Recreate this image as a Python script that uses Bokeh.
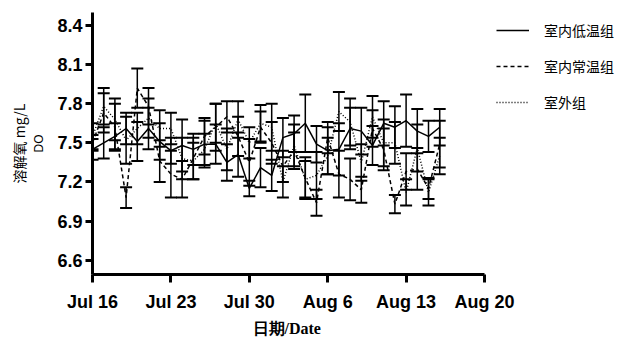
import pandas as pd
from bokeh.plotting import figure
from bokeh.models import (ColumnDataSource, Whisker, TeeHead, Legend, LegendItem,
                          FixedTicker, Range1d, Title)
from bokeh.embed import file_html
from bokeh.resources import INLINE

# ---------------- data ----------------
dates = ["2023-07-16", "2023-07-17", "2023-07-18", "2023-07-19", "2023-07-20", "2023-07-21",
         "2023-07-22", "2023-07-23", "2023-07-24", "2023-07-25", "2023-07-26", "2023-07-27",
         "2023-07-28", "2023-07-29", "2023-07-30", "2023-07-31", "2023-08-01", "2023-08-02",
         "2023-08-03", "2023-08-04", "2023-08-05", "2023-08-06", "2023-08-07", "2023-08-08",
         "2023-08-09", "2023-08-10", "2023-08-11", "2023-08-12", "2023-08-13", "2023-08-14",
         "2023-08-15", "2023-08-16"]

low_mean = [7.45, 7.50, 7.55, 7.61, 7.51, 7.61, 7.51, 7.44, 7.48, 7.45, 7.49, 7.49,
            7.35, 7.41, 7.15, 7.31, 7.25, 7.54, 7.57, 7.65, 7.49, 7.44, 7.45, 7.61,
            7.59, 7.48, 7.65, 7.62, 7.67, 7.59, 7.55, 7.62]
low_sd = [0.08, 0.12, 0.10, 0.12, 0.15, 0.16, 0.14, 0.10, 0.20, 0.12, 0.18, 0.15,
          0.14, 0.17, 0.06, 0.15, 0.12, 0.15, 0.14, 0.22, 0.14, 0.18, 0.20, 0.16,
          0.18, 0.15, 0.17, 0.16, 0.20, 0.17, 0.12, 0.14]

normal_mean = [7.50, 7.73, 7.62, 7.08, 7.92, 7.78, 7.36, 7.26, 7.22, 7.38, 7.55, 7.62,
               7.70, 7.55, 7.35, 7.62, 7.50, 7.32, 7.44, 7.23, 7.04, 7.54, 7.26, 7.22,
               7.14, 7.61, 7.45, 7.03, 7.28, 7.30, 7.15, 7.49]
normal_sd = [0.06, 0.15, 0.18, 0.08, 0.15, 0.14, 0.16, 0.18, 0.14, 0.16, 0.14, 0.18,
             0.12, 0.15, 0.18, 0.12, 0.16, 0.12, 0.14, 0.16, 0.10, 0.12, 0.18, 0.16,
             0.10, 0.14, 0.16, 0.07, 0.14, 0.16, 0.08, 0.18]

outdoor_mean = [7.55, 7.78, 7.68, 7.52, 7.61, 7.69, 7.61, 7.61, 7.38, 7.36, 7.45, 7.65,
                7.45, 7.68, 7.50, 7.65, 7.62, 7.20, 7.48, 7.22, 7.25, 7.40, 7.74, 7.66,
                7.35, 7.70, 7.50, 7.50, 7.12, 7.46, 7.12, 7.40]
outdoor_sd = [0.10, 0.14, 0.16, 0.18, 0.12, 0.15, 0.14, 0.12, 0.16, 0.14, 0.12, 0.15,
              0.16, 0.14, 0.12, 0.14, 0.18, 0.12, 0.16, 0.14, 0.18, 0.14, 0.15, 0.18,
              0.14, 0.16, 0.18, 0.16, 0.10, 0.18, 0.10, 0.14]

series_names = ["室内低温组", "室内常温组", "室外组"]
x_tick_dates = ["2023-07-16", "2023-07-23", "2023-07-30", "2023-08-06", "2023-08-13", "2023-08-20"]
x_tick_labels = ["Jul 16", "Jul 23", "Jul 30", "Aug 6", "Aug 13", "Aug 20"]
y_ticks = [6.6, 6.9, 7.2, 7.5, 7.8, 8.1, 8.4]
y_title = "溶解氧 mg/L"
y_subtitle = "DO"
x_title = "日期/Date"

# ---------------- figure ----------------
start = pd.Timestamp(dates[0])
xs = [(pd.Timestamp(d) - start).days for d in dates]
tick_x = [(pd.Timestamp(d) - start).days for d in x_tick_dates]

# frame runs to the right edge so the legend can sit inside it;
# the x axis line itself is bounded to Jul 16 - Aug 20
axis_px = 392.0
frame_px = 622 - 92
x_end = tick_x[0] + (tick_x[-1] - tick_x[0]) * frame_px / axis_px

p = figure(width=622, height=344, output_backend="svg", toolbar_location=None,
           x_range=Range1d(tick_x[0], x_end), y_range=Range1d(6.49, 8.5),
           min_border_left=92, min_border_right=0, min_border_top=12, min_border_bottom=70)
p.outline_line_color = None
p.grid.visible = False
p.background_fill_color = "white"

styles = [None, "4 3", "1 2"]
means = [low_mean, normal_mean, outdoor_mean]
sds = [low_sd, normal_sd, outdoor_sd]
items = []
for name, m, s, dash in zip(series_names, means, sds, styles):
    src = ColumnDataSource(dict(x=xs, y=m,
                                lo=[a - b for a, b in zip(m, s)],
                                hi=[a + b for a, b in zip(m, s)]))
    w = Whisker(source=src, base="x", lower="lo", upper="hi", dimension="height",
                line_color="black", line_width=1.5,
                upper_head=TeeHead(size=12, line_width=2, line_color="black"),
                lower_head=TeeHead(size=12, line_width=2, line_color="black"))
    p.add_layout(w)
    kw = dict(line_color="black", line_width=1.5)
    if dash:
        kw["line_dash"] = dash
    r = p.line("x", "y", source=src, **kw)
    items.append(LegendItem(label=name, renderers=[r]))

# axes
for ax in (p.xaxis[0], p.yaxis[0]):
    ax.axis_line_width = 3
    ax.major_tick_line_width = 3
    ax.major_tick_in = 0
    ax.minor_tick_line_color = None
    ax.major_label_text_font = "Liberation Sans"
    ax.major_label_text_font_style = "bold"
    ax.major_label_text_font_size = "18px"
    ax.major_label_text_color = "black"
    ax.axis_line_color = "black"
    ax.major_tick_line_color = "black"

p.xaxis.bounds = (tick_x[0], tick_x[-1])
p.xaxis.ticker = FixedTicker(ticks=tick_x)
p.xaxis.major_label_overrides = {t: l for t, l in zip(tick_x, x_tick_labels)}
p.xaxis.major_tick_out = 8
p.xaxis.major_label_standoff = 9

# x title placed under the bounded axis (centred on Jul 16 - Aug 20)
p.add_layout(Title(text=x_title, align="left", offset=160, text_font="Liberation Serif",
                   text_font_size="16px", text_font_style="bold", text_color="black",
                   standoff=6), "below")

p.yaxis.ticker = FixedTicker(ticks=y_ticks)
p.yaxis.major_tick_out = 7
p.yaxis.major_label_standoff = 3
p.yaxis.axis_label = y_subtitle
p.yaxis.axis_label_text_font = "Liberation Sans"
p.yaxis.axis_label_text_font_style = "normal"
p.yaxis.axis_label_text_font_size = "12px"
p.yaxis.axis_label_text_color = "black"
p.yaxis.axis_label_standoff = 8

p.add_layout(Title(text=y_title, align="center", text_font="Noto Sans CJK SC",
                   text_font_size="14px", text_font_style="normal",
                   standoff=2, text_color="black"), "left")

legend = Legend(items=items, location=(404, 162), orientation="vertical",
                border_line_color=None, background_fill_alpha=0,
                label_text_font="Noto Sans CJK SC", label_text_font_size="14px",
                label_text_color="black",
                glyph_width=33, glyph_height=20, label_height=20, spacing=16,
                label_standoff=15, padding=6, margin=0)
p.add_layout(legend)

open("out.html", "w").write(file_html(p, INLINE))
